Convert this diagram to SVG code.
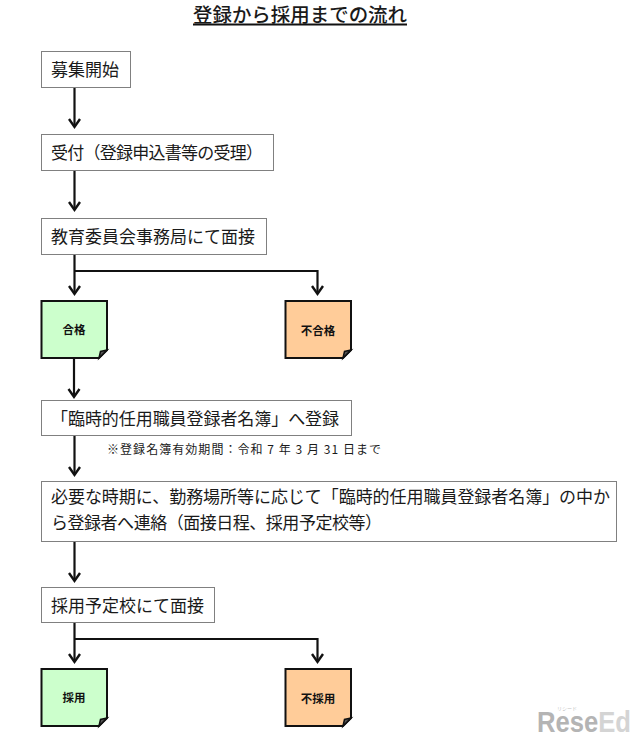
<svg xmlns="http://www.w3.org/2000/svg" width="634" height="739" viewBox="0 0 634 739">
<style>
text{font-family:"Noto Sans CJK JP","Noto Sans CJK SC",sans-serif;fill:#1a1a1a}
.box{fill:#fff;stroke:#808080;stroke-width:1}
.t{font-size:17px}
.s{font-size:11.5px;font-weight:700;text-anchor:middle;fill:#111}
.note{stroke:#111;stroke-width:2;stroke-linejoin:miter}
.g{fill:#ccffcc}.o{fill:#ffcc99}
.fold{fill:#555;stroke:#111;stroke-width:1.500}
.c{fill:none;stroke:#111;stroke-width:2.200}
.h{fill:none;stroke:#111;stroke-width:2.400}
.wm{font-family:"Liberation Sans",sans-serif;font-weight:700;font-size:30px}
</style>
<defs>
<path id="hd" d="M-5.500 -8L0 0L5.500 -8" class="h"/>
</defs>
<g id="title"><text x="193" y="22" font-size="19.500" font-weight="500" textLength="214" lengthAdjust="spacingAndGlyphs">登録から採用までの流れ</text><line x1="193" y1="24.500" x2="407" y2="24.500" stroke="#111" stroke-width="1.800"/></g>
<g id="connectors">
<path class="c" d="M74.500 87V126"/><use href="#hd" x="74.500" y="127"/>
<path class="c" d="M74.500 170V209"/><use href="#hd" x="74.500" y="210"/>
<path class="c" d="M74.500 254V293"/><use href="#hd" x="74.500" y="294"/>
<path class="c" d="M74.500 271H317.500V293"/><use href="#hd" x="317.500" y="294"/>
<path class="c" d="M74 358V396"/><use href="#hd" x="74" y="397"/>
<path class="c" d="M74.500 435V474"/><use href="#hd" x="74.500" y="475"/>
<path class="c" d="M74.500 541V580"/><use href="#hd" x="74.500" y="581"/>
<path class="c" d="M74.500 622V661"/><use href="#hd" x="74.500" y="662"/>
<path class="c" d="M74.500 639H317.500V661"/><use href="#hd" x="317.500" y="662"/>
</g>
<g id="n1"><rect class="box" x="41.500" y="51.500" width="89" height="36"/><text class="t" x="51" y="76" textLength="68">募集開始</text></g>
<g id="n2"><rect class="box" x="41.500" y="134.500" width="232" height="36"/><text class="t" x="51" y="159" textLength="212">受付（登録申込書等の受理）</text></g>
<g id="n3"><rect class="box" x="41.500" y="218.500" width="225" height="36"/><text class="t" x="51" y="243" textLength="204">教育委員会事務局にて面接</text></g>
<g id="n4"><path class="note g" d="M41.500 301H107V350L99 358H41.500Z"/><path class="fold" d="M99 358L100.500 351.500L107 350Z"/><text class="s" x="74" y="334">合格</text></g>
<g id="n5"><path class="note o" d="M285.500 301H351V350L343 358H285.500Z"/><path class="fold" d="M343 358L344.500 351.500L351 350Z"/><text class="s" x="318" y="335">不合格</text></g>
<g id="n6"><rect class="box" x="41.500" y="400.500" width="310" height="35"/><text class="t" x="51" y="425" textLength="288">「臨時的任用職員登録者名簿」へ登録</text></g>
<g id="note6"><text x="107" y="454" font-size="12" textLength="274">※登録名簿有効期間：令和 7 年 3 月 31 日まで</text></g>
<g id="n7"><rect class="box" x="41.500" y="481.500" width="575" height="60"/><text class="t" x="51" y="503" textLength="559">必要な時期に、勤務場所等に応じて「臨時的任用職員登録者名簿」の中か</text><text class="t" x="51" y="529" textLength="331">ら登録者へ連絡（面接日程、採用予定校等）</text></g>
<g id="n8"><rect class="box" x="41.500" y="587.500" width="173" height="35"/><text class="t" x="51" y="612" textLength="153">採用予定校にて面接</text></g>
<g id="n9"><path class="note g" d="M41.500 669H107V718L99 726H41.500Z"/><path class="fold" d="M99 726L100.500 719.500L107 718Z"/><text class="s" x="74" y="702">採用</text></g>
<g id="n10"><path class="note o" d="M285.500 669H351V718L343 726H285.500Z"/><path class="fold" d="M343 726L344.500 719.500L351 718Z"/><text class="s" x="318" y="703">不採用</text></g>
<g id="watermark"><text class="wm" x="537" y="732" style="fill:#b4b4b4" textLength="94" lengthAdjust="spacingAndGlyphs">Rese<tspan style="fill:#d4d4d4">Ed</tspan></text><text x="557" y="710" style="fill:#c4c4c4" font-size="5">リシード</text></g>
</svg>
